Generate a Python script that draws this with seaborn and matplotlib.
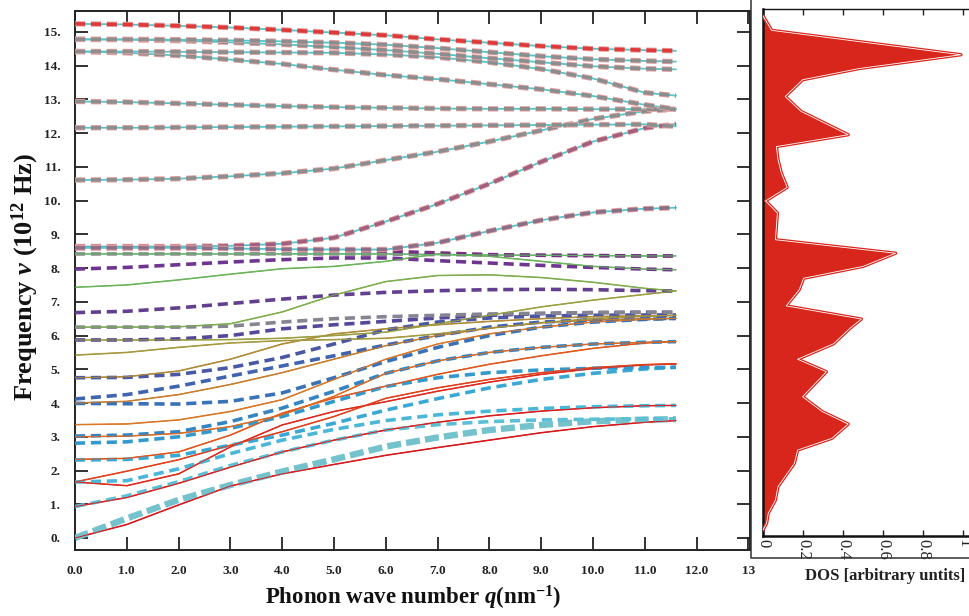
import matplotlib
matplotlib.use("Agg")
import matplotlib.pyplot as plt
import seaborn as sns
import numpy as np
import pandas as pd
from matplotlib import patheffects as pe
from matplotlib.lines import Line2D

sns.set_theme(style="white")
plt.rcParams['font.family'] = ['Liberation Serif', 'DejaVu Serif']
plt.rcParams['mathtext.fontset'] = 'custom'
plt.rcParams['mathtext.rm'] = 'Liberation Serif:bold'
plt.rcParams['mathtext.it'] = 'Liberation Serif:italic:bold'
plt.rcParams['mathtext.bf'] = 'Liberation Serif:bold'

# ---------------- data ----------------
Q = [0, 1, 2, 3, 4, 5, 6, 7, 8, 9, 10, 11, 11.6]

# solid-line branches (set A), low to high
A_bands = [
    [0.00, 0.40, 0.98, 1.54, 1.90, 2.18, 2.45, 2.68, 2.90, 3.12, 3.30, 3.43, 3.48],
    [0.93, 1.20, 1.62, 2.10, 2.55, 2.90, 3.20, 3.43, 3.62, 3.76, 3.86, 3.92, 3.93],
    [1.66, 1.55, 1.90, 2.70, 3.35, 3.75, 4.04, 4.35, 4.62, 4.85, 5.02, 5.13, 5.16],
    [1.66, 1.98, 2.32, 2.75, 3.15, 3.60, 4.14, 4.45, 4.70, 4.90, 5.05, 5.14, 5.16],
    [2.33, 2.36, 2.55, 3.05, 3.70, 4.15, 4.50, 4.85, 5.15, 5.40, 5.62, 5.78, 5.82],
    [3.00, 3.02, 3.10, 3.30, 3.65, 4.20, 4.88, 5.25, 5.50, 5.65, 5.75, 5.80, 5.82],
    [3.36, 3.38, 3.50, 3.75, 4.10, 4.70, 5.30, 5.75, 6.05, 6.25, 6.40, 6.48, 6.51],
    [4.00, 4.05, 4.25, 4.55, 4.90, 5.30, 5.70, 6.00, 6.22, 6.38, 6.46, 6.50, 6.51],
    [4.75, 4.78, 4.95, 5.30, 5.75, 6.05, 6.20, 6.32, 6.42, 6.50, 6.56, 6.59, 6.60],
    [5.42, 5.50, 5.65, 5.78, 5.85, 5.88, 5.92, 6.05, 6.22, 6.38, 6.50, 6.57, 6.60],
    [5.87, 5.87, 5.87, 5.88, 5.92, 6.00, 6.10, 6.35, 6.60, 6.85, 7.05, 7.22, 7.32],
    [6.25, 6.25, 6.26, 6.35, 6.70, 7.20, 7.60, 7.78, 7.80, 7.72, 7.58, 7.40, 7.32],
    [7.43, 7.50, 7.65, 7.82, 7.98, 8.05, 8.20, 8.42, 8.35, 8.20, 8.05, 7.97, 7.95],
    [8.42, 8.42, 8.42, 8.42, 8.42, 8.42, 8.42, 8.40, 8.39, 8.38, 8.37, 8.36, 8.36],
]
A_colors = ['#d7191c', '#d92020', '#dc2a1e', '#e0401c', '#e0561c', '#df6a22',
            '#d97826', '#c87e2c', '#b08a35', '#a4993c', '#9aa040', '#7fae4e',
            '#6cb45c', '#5fbb6a']

# dashed-line branches (set B), low to high
B_bands = [
    [0.00, 0.58, 1.13, 1.57, 1.97, 2.33, 2.71, 2.98, 3.20, 3.35, 3.46, 3.51, 3.52],
    [0.93, 1.25, 1.67, 2.15, 2.55, 2.90, 3.20, 3.36, 3.45, 3.50, 3.52, 3.53, 3.53],
    [1.66, 1.70, 2.05, 2.50, 2.90, 3.22, 3.48, 3.65, 3.76, 3.84, 3.89, 3.92, 3.93],
    [2.31, 2.33, 2.45, 2.75, 3.05, 3.40, 3.79, 4.13, 4.45, 4.70, 4.88, 5.01, 5.06],
    [2.81, 2.85, 3.00, 3.25, 3.60, 4.05, 4.49, 4.75, 4.90, 4.98, 5.03, 5.05, 5.06],
    [3.02, 3.05, 3.15, 3.45, 3.85, 4.35, 4.88, 5.25, 5.50, 5.65, 5.75, 5.80, 5.82],
    [3.99, 3.98, 3.97, 4.05, 4.30, 4.75, 5.23, 5.65, 6.00, 6.25, 6.40, 6.48, 6.51],
    [4.12, 4.25, 4.50, 4.80, 5.10, 5.40, 5.72, 6.00, 6.25, 6.40, 6.47, 6.50, 6.51],
    [4.75, 4.76, 4.85, 5.05, 5.35, 5.75, 6.17, 6.40, 6.52, 6.58, 6.60, 6.61, 6.61],
    [5.87, 5.87, 5.90, 6.00, 6.20, 6.32, 6.42, 6.52, 6.60, 6.65, 6.68, 6.69, 6.69],
    [6.25, 6.25, 6.25, 6.28, 6.40, 6.50, 6.56, 6.60, 6.64, 6.66, 6.68, 6.69, 6.69],
    [6.68, 6.72, 6.82, 6.95, 7.08, 7.20, 7.28, 7.33, 7.36, 7.37, 7.36, 7.33, 7.32],
    [7.97, 8.02, 8.10, 8.18, 8.25, 8.30, 8.30, 8.22, 8.15, 8.08, 8.02, 7.97, 7.95],
    [8.42, 8.42, 8.42, 8.42, 8.42, 8.42, 8.41, 8.40, 8.39, 8.38, 8.37, 8.36, 8.36],
    [8.58, 8.58, 8.58, 8.57, 8.56, 8.54, 8.50, 8.45, 8.40, 8.38, 8.37, 8.36, 8.36],
]
B_colors = ['#74c2cc', '#5cbfd6', '#4ab6d8', '#3aa8d4', '#3399cc', '#3485c2',
            '#3a72b8', '#4064ae', '#4a58a4', '#56479a', '#858592', '#63408f',
            '#6f3590', '#8a8a8a', '#7a3080']

# upper branches shared by both sets
U_bands = [
    [8.64, 8.64, 8.64, 8.66, 8.72, 8.90, 9.38, 9.90, 10.50, 11.15, 11.75, 12.15, 12.27],
    [8.60, 8.60, 8.60, 8.58, 8.56, 8.55, 8.55, 8.75, 9.10, 9.42, 9.65, 9.76, 9.79],
    [10.61, 10.62, 10.65, 10.72, 10.81, 10.95, 11.20, 11.45, 11.75, 12.08, 12.42, 12.65, 12.71],
    [12.16, 12.16, 12.17, 12.18, 12.19, 12.20, 12.21, 12.22, 12.23, 12.24, 12.25, 12.26, 12.20],
    [12.94, 12.92, 12.88, 12.84, 12.80, 12.77, 12.75, 12.73, 12.72, 12.72, 12.71, 12.71, 12.71],
    [14.42, 14.38, 14.30, 14.18, 14.05, 13.88, 13.72, 13.60, 13.45, 13.30, 13.10, 12.84, 12.71],
    [14.42, 14.42, 14.41, 14.40, 14.39, 14.38, 14.33, 14.25, 14.10, 13.90, 13.62, 13.20, 13.11],
    [14.78, 14.77, 14.74, 14.69, 14.63, 14.55, 14.46, 14.35, 14.22, 14.10, 13.98, 13.91, 13.89],
    [14.78, 14.78, 14.77, 14.75, 14.72, 14.68, 14.62, 14.52, 14.40, 14.28, 14.19, 14.14, 14.12],
    [15.24, 15.22, 15.18, 15.13, 15.06, 14.98, 14.90, 14.78, 14.68, 14.58, 14.50, 14.46, 14.44],
]
U_solid_color = '#52c6c8'
U_dash_colors = ['#a2607e', '#8c6f86', '#8d8d8d', '#8d8d8d', '#8d8d8d',
                 '#8d8d8d', '#8d8d8d', '#8d8d8d', '#8d8d8d', '#e0393a']

# density of states (right panel)
dos_freq = [15.8, 15.36, 14.62, 14.2, 13.86, 13.35, 12.9, 12.19, 11.83, 11.43, 11.02,
            10.59, 10.18, 9.81, 9.0, 8.59, 8.19, 7.83, 7.48, 6.99, 6.59, 6.31, 5.84,
            5.37, 4.99, 4.23, 3.78, 3.40, 2.97, 2.61, 2.21, 1.5, 1.09, 0.69, 0.39, 0.18]
dos_val = [0.0, 0.043, 0.99, 0.48, 0.198, 0.111, 0.19, 0.426, 0.067, 0.075, 0.092,
           0.121, 0.013, 0.072, 0.062, 0.663, 0.5, 0.203, 0.181, 0.116, 0.492, 0.435,
           0.353, 0.173, 0.317, 0.198, 0.296, 0.426, 0.345, 0.173, 0.157, 0.075,
           0.062, 0.026, 0.018, 0.0]

x_ticks = list(range(14))
x_ticklabels = [f"{i}.0" for i in range(13)] + ["13"]
y_ticks = list(range(16))
y_ticklabels = [f"{i}." for i in range(16)]
dos_ticks = [0, 0.2, 0.4, 0.6, 0.8, 1.0]
dos_ticklabels = ["0", "0.2", "0.4", "0.6", "0.8", "1"]

# ---------------- figure ----------------
W, H = 969, 616
fig = plt.figure(figsize=(W / 100, H / 100), dpi=100)
ax = fig.add_axes([75 / W, 66 / H, 675 / W, 539 / H])

DASH = (0, (2.8, 1.6))


def solid(vals, color, lw=1.1, z=2):
    sns.lineplot(x=Q, y=vals, ax=ax, color=color, lw=lw, sort=False,
                 estimator=None, legend=False, zorder=z)


def dashed(vals, color, lw=2.6, edge=None, dash=DASH, z=3):
    kw = {}
    if edge is not None:
        kw['path_effects'] = [pe.Stroke(linewidth=lw + 1.3, foreground=edge), pe.Normal()]
    sns.lineplot(x=Q, y=vals, ax=ax, color=color, lw=lw, ls=dash, sort=False,
                 estimator=None, legend=False, zorder=z, **kw)


for vals, c in zip(A_bands, A_colors):
    solid(vals, c)
for vals in U_bands:
    solid(vals, U_solid_color, lw=1.3)

for i, (vals, c) in enumerate(zip(B_bands, B_colors)):
    if i == 0:
        dashed(vals, c, lw=4.6, dash=(0, (2.2, 0.8)))
    else:
        dashed(vals, c)
for vals, c in zip(U_bands, U_dash_colors):
    dashed(vals, c, edge='#e6a3a3')

# solid set re-drawn thinly on top so it stays visible through the dashes
for vals, c in zip(A_bands, A_colors):
    solid(vals, c, lw=0.7, z=4)

ax.set_xlim(0, 675 / 51.8)
ax.set_ylim(-0.356, 15.62)
ax.set_xticks(x_ticks)
ax.set_xticklabels(x_ticklabels, fontweight='bold', fontsize=9.5)
ax.set_yticks(y_ticks)
ax.set_yticklabels(y_ticklabels, fontweight='bold', fontsize=9.5)
ax.tick_params(axis='x', direction='in', length=9.5, width=1.3, top=True, bottom=True,
               pad=11, colors='#222222')
ax.tick_params(axis='y', direction='in', length=9.5, width=1.3, left=True, right=True,
               pad=10.5, colors='#222222')
for s in ax.spines.values():
    s.set_linewidth(1.4)
    s.set_color('#222222')
ax.set_xlabel("")
ax.set_ylabel("")
ax.grid(False)

fig.text(413 / W, 1 - 598 / H, r"Phonon wave number $q$(nm$^{-1}$)", ha='center',
         va='center', fontsize=16.5, fontweight='bold', color='#111111')
fig.text(25 / W, 1 - 277 / H, r"Frequency $v$ (10$^{12}$ Hz)", ha='center',
         va='center', rotation=90, fontsize=19, fontweight='bold', color='#111111')

# ---------------- DOS panel ----------------
ax2 = fig.add_axes([763 / W, 80 / H, 210 / W, 526.7 / H])
ax2.set_xlim(0, 210 / 200)
ax2.set_ylim(0, 16)
ax2.fill_betweenx(dos_freq, 0, dos_val, color='#d9261c', lw=0, zorder=2)
ax2.plot(dos_val, dos_freq, color='#d9261c', lw=2.4, zorder=3)
ax2.plot(dos_val, dos_freq, color='white', lw=0.6, zorder=4)
ax2.set_xticks(dos_ticks)
ax2.set_xticklabels(dos_ticklabels, rotation=-90, fontsize=12)
ax2.set_yticks(list(range(2, 15, 2)))
ax2.set_yticklabels([])
ax2.tick_params(axis='x', direction='in', length=4, width=1, top=True, bottom=True,
                pad=2, colors='#222222')
ax2.tick_params(axis='y', direction='in', length=2.5, width=1, left=True, right=True,
                colors='#bcd3e6')
ax2.spines['left'].set_linewidth(1.8)
ax2.spines['bottom'].set_linewidth(1.8)
ax2.spines['top'].set_linewidth(1.0)
ax2.spines['right'].set_visible(False)
for k in ['left', 'bottom', 'top']:
    ax2.spines[k].set_color('#111111')
ax2.grid(False)
ax2.set_facecolor('white')

fig.text(885 / W, 1 - 576 / H, "DOS [arbitrary untits]", ha='center', va='center',
         fontsize=12, fontweight='bold', color='#222222')

# frame around the DOS panel
fig.add_artist(Line2D([751 / W, 751 / W, 1.0], [1.0, 1 - 558 / H, 1 - 558 / H],
                      transform=fig.transFigure, color='#333333', lw=1.1))

fig.savefig("out.png", dpi=100)
